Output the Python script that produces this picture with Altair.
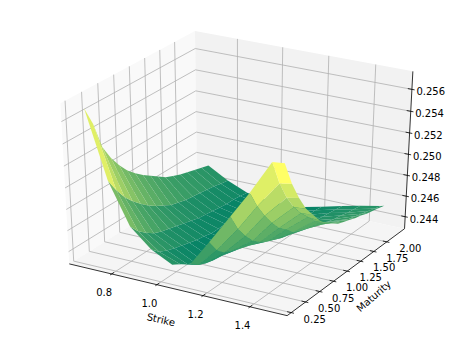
import altair as alt
import pandas as pd

strikes = [0.69, 0.78, 0.87, 0.96, 1.05, 1.13, 1.21, 1.30, 1.38, 1.47]
edge_strikes = [1.52, 1.52, 1.52, 1.52, 1.52, 1.52, 1.52, 1.515, 1.51, 1.505, 1.50, 1.497, 1.494, 1.491, 1.488, 1.486, 1.484]
maturities = [0.25, 0.375, 0.5, 0.625, 0.75, 0.875, 1.0, 1.125, 1.25, 1.375, 1.5, 1.625, 1.75, 1.875, 2.0, 2.125, 2.25]

vol_k069 = [.2573, .2555, .2530, .2516, .2505, .2496, .2489, .2483, .2478, .2473, .2468, .2465, .2462, .2460, .2458, .2456, .2454]
vol_k078 = [.2512, .2499, .2488, .2480, .2473, .2467, .2462, .2458, .2454, .2452, .2450, .2449, .2448, .2447, .2446, .2444, .2443]
vol_k087 = [.2474, .2465, .2459, .2454, .2451, .2449, .2447, .2445, .2443, .2441, .2440, .2439, .2438, .2437, .2437, .2436, .2435]
vol_k096 = [.2457, .2450, .24465, .2444, .2442, .2440, .2438, .2437, .2435, .2435, .2435, .2434, .2434, .2433, .2433, .2432, .2432]
vol_k105 = [.2447, .2443, .2438, .24345, .2432, .2431, .2431, .2431, .2431, .2431, .2431, .2431, .2431, .2431, .2431, .2431, .2431]
vol_k113 = [.2452, .2446, .2443, .2441, .2440, .2439, .2438, .2437, .2436, .2435, .2435, .2434, .2434, .2433, .2433, .2433, .2433]
vol_k121 = [.2476, .2464, .2457, .2454, .2451, .2449, .2447, .2446, .2444, .2443, .2442, .2441, .2440, .2439, .2438, .2438, .2437]
vol_k130 = [.2504, .2488, .2477, .2468, .2462, .2458, .2455, .2452, .2450, .2449, .2448, .2447, .2446, .2445, .2444, .2443, .2442]
vol_k138 = [.2529, .25125, .24994, .24883, .2479, .2473, .2466, .2463, .2460, .2458, .2456, .2453, .2451, .2450, .2448, .2447, .2446]
vol_k147 = [.2560, .2537, .2520, .2507, .2497, .2489, .2481, .2475, .2470, .2466, .2463, .2460, .2458, .2456, .2454, .2452, .2450]
vol_edge = [.2561, .2539, .2522, .2508, .2498, .2488, .2481, .2476, .2471, .2468, .2465, .2462, .2460, .2457, .2455, .2453, .2451]
vols = [vol_k069, vol_k078, vol_k087, vol_k096, vol_k105, vol_k113, vol_k121, vol_k130, vol_k138, vol_k147, vol_edge]

strike_ticks = [0.8, 1.0, 1.2, 1.4]
maturity_ticks = [0.25, 0.5, 0.75, 1.0, 1.25, 1.5, 1.75, 2.0]
vol_ticks = [0.244, 0.246, 0.248, 0.250, 0.252, 0.254, 0.256]

XLIM = (0.6092, 1.5556)
YLIM = (0.18, 2.35)
ZLIM = (0.24282, 0.25762)
W, H = 445, 328


def norm(k, t, v):
    return ((k - XLIM[0]) / (XLIM[1] - XLIM[0]),
            (t - YLIM[0]) / (YLIM[1] - YLIM[0]),
            (v - ZLIM[0]) / (ZLIM[1] - ZLIM[0]))


def project_norm(a, b, c):
    sa, sb, sc = a - .5, b - .5, c - .5
    xv = 0.8660254 * sa + 0.5 * sb
    yv = -0.25 * sa + 0.4330127 * sb + 0.8660254 * sc
    d = 10 - (0.4330127 * sa - 0.75 * sb + 0.5 * sc)
    return 239.5 + 2515 * xv / d, 168.5 - 1835 * yv / d, d


def project(k, t, v):
    return project_norm(*norm(k, t, v))


def strike_at(p, q):
    return edge_strikes[q] if p == len(strikes) else strikes[p]


# surface
rows = []
quads = []
for i in range(len(vols) - 1):
    for j in range(len(maturities) - 1):
        corners = [(i, j), (i + 1, j), (i + 1, j + 1), (i, j + 1)]
        pts = [project(strike_at(p, q), maturities[q], vols[p][q]) for p, q in corners]
        depth = sum(p[2] for p in pts) / 4
        mean = sum(vols[p][q] for p, q in corners) / 4
        quads.append((depth, mean, pts))
quads.sort(key=lambda q: -q[0])
for n, (depth, mean, pts) in enumerate(quads):
    for m, p in enumerate(pts):
        rows.append({"poly": f"p{n:03d}", "v": m, "x": p[0], "y": p[1], "vol": mean})
surface_df = pd.DataFrame(rows)
means = [q[1] for q in quads]

xs = alt.Scale(domain=[8, 8 + W], nice=False, zero=False)
ys = alt.Scale(domain=[8 + H, 8], nice=False, zero=False)
X = alt.X("x:Q", scale=xs, axis=None)
Y = alt.Y("y:Q", scale=ys, axis=None)

# panes
panes = []
for name, col, cs in [
    ("left", "#f9f9f9", [(0, 0, 0), (0, 1, 0), (0, 1, 1), (0, 0, 1)]),
    ("back", "#f2f2f2", [(0, 1, 0), (1, 1, 0), (1, 1, 1), (0, 1, 1)]),
    ("floor", "#f5f5f5", [(0, 0, 0), (1, 0, 0), (1, 1, 0), (0, 1, 0)]),
]:
    for m, c in enumerate(cs):
        px, py, _ = project_norm(*c)
        panes.append({"poly": name, "v": m, "x": px, "y": py, "col": col})
panes_df = pd.DataFrame(panes)
pane_layer = alt.Chart(panes_df).mark_line(filled=True, interpolate="linear-closed", strokeWidth=0).encode(
    x=X, y=Y, detail="poly:N", order="v:Q",
    fill=alt.Fill("col:N", scale=None, legend=None),
    color=alt.Color("col:N", scale=None, legend=None))


def path_rows(prefix, paths):
    out = []
    for n, path in enumerate(paths):
        for m, c in enumerate(path):
            px, py, _ = project_norm(*c)
            out.append({"line": f"{prefix}{n}", "v": m, "x": px, "y": py})
    return out


grid_paths, tick_paths = [], []
for k in strike_ticks:
    a = norm(k, YLIM[0], ZLIM[0])[0]
    grid_paths.append([(a, 0, 0), (a, 1, 0), (a, 1, 1)])
    tick_paths.append([(a, -0.012, 0), (a, 0.018, 0)])
for t in maturity_ticks:
    b = norm(XLIM[0], t, ZLIM[0])[1]
    grid_paths.append([(1, b, 0), (0, b, 0), (0, b, 1)])
    tick_paths.append([(1.012, b, 0), (0.982, b, 0)])
for v in vol_ticks:
    c = norm(XLIM[0], YLIM[0], v)[2]
    grid_paths.append([(0, 0, c), (0, 1, c), (1, 1, c)])
    tick_paths.append([(0.982, 1, c), (1.012, 1, c)])
axis_paths = [[(0, 0, 0), (1, 0, 0)], [(1, 0, 0), (1, 1, 0)], [(1, 1, 0), (1, 1, 1)]]

grid_layer = alt.Chart(pd.DataFrame(path_rows("g", grid_paths))).mark_line(
    color="#b0b0b0", strokeWidth=0.8).encode(x=X, y=Y, detail="line:N", order="v:Q")
axis_layer = alt.Chart(pd.DataFrame(path_rows("a", axis_paths + tick_paths))).mark_line(
    color="#000000", strokeWidth=0.8).encode(x=X, y=Y, detail="line:N", order="v:Q")

surface_layer = alt.Chart(surface_df).mark_line(filled=True, interpolate="linear-closed", strokeWidth=0).encode(
    x=X, y=Y, detail="poly:N", order="v:Q",
    color=alt.Color("vol:Q", legend=None,
                    scale=alt.Scale(domain=[min(means), max(means)],
                                    range=["#008066", "#ffff66"], interpolate="rgb")),
)

# labels
labels = []
for k in strike_ticks:
    px, py, _ = project(k, YLIM[0], ZLIM[0])
    labels.append({"x": px - 7.5, "y": py + 19, "t": f"{k:.1f}"})
for t in maturity_ticks:
    px, py, _ = project(XLIM[1], t, ZLIM[0])
    labels.append({"x": px + 23.5, "y": py + 7.2, "t": f"{t:.2f}"})
for v in vol_ticks:
    px, py, _ = project(XLIM[1], YLIM[1], v)
    labels.append({"x": px + 18.8, "y": py + 2.8, "t": f"{v:.3f}"})
label_layer = alt.Chart(pd.DataFrame(labels)).mark_text(
    font="DejaVu Sans", fontSize=10, color="#000000", align="center", baseline="middle"
).encode(x=X, y=Y, text="t:N")

sx, sy, _ = project_norm(0.5, 0, 0)
mx, my, _ = project_norm(1, 0.5, 0)
strike_title = alt.Chart(pd.DataFrame([{"x": sx - 15, "y": sy + 31, "t": "Strike"}])).mark_text(
    font="DejaVu Sans", fontSize=10, color="#000000", angle=13, align="center", baseline="middle"
).encode(x=X, y=Y, text="t:N")
maturity_title = alt.Chart(pd.DataFrame([{"x": mx + 26, "y": my + 26, "t": "Maturity"}])).mark_text(
    font="DejaVu Sans", fontSize=10, color="#000000", angle=319, align="center", baseline="middle"
).encode(x=X, y=Y, text="t:N")

chart = alt.layer(pane_layer, grid_layer, axis_layer, surface_layer, label_layer, strike_title, maturity_title).resolve_scale(
    color="independent", fill="independent"
).properties(
    width=W, height=H, padding=0, autosize=alt.AutoSizeParams(type="none")
).configure_view(stroke=None)

chart.save("out.html", embed_options={"renderer": "svg", "actions": False})
